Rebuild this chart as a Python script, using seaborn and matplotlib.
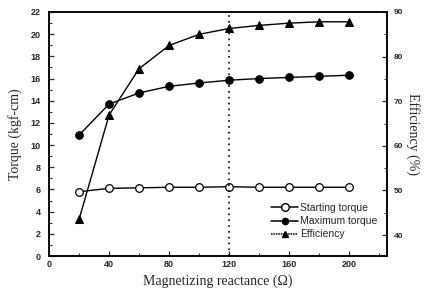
import numpy as np
import pandas as pd
import matplotlib
matplotlib.use("Agg")
import matplotlib.pyplot as plt
import seaborn as sns
from matplotlib.ticker import MultipleLocator
from matplotlib.lines import Line2D

# values
reactance = [20, 40, 60, 80, 100, 120, 140, 160, 180, 200]
starting_torque = [5.8, 6.1, 6.15, 6.2, 6.2, 6.25, 6.2, 6.2, 6.2, 6.2]
maximum_torque = [10.9, 13.7, 14.7, 15.3, 15.6, 15.85, 16.0, 16.1, 16.2, 16.3]
efficiency = [43.5, 66.9, 77.3, 82.5, 85.0, 86.3, 87.0, 87.5, 87.8, 87.8]
marked_reactance = 120

sns.set_theme(style="ticks")
plt.rcParams["font.family"] = ["Liberation Sans", "DejaVu Sans"]

fig = plt.figure(figsize=(4.28, 2.96), dpi=100)
ax = fig.add_axes([0.1145, 0.135, 0.7895, 0.8245])

torque_df = pd.DataFrame({
    "x": reactance * 2,
    "y": starting_torque + maximum_torque,
    "series": ["Starting torque"] * len(reactance) + ["Maximum torque"] * len(reactance),
})
eff_df = pd.DataFrame({"x": reactance, "y": efficiency})

sns.lineplot(data=torque_df[torque_df.series == "Starting torque"], x="x", y="y", ax=ax,
             color="black", lw=1.0, marker="o", markersize=5.5, markerfacecolor="white",
             markeredgecolor="black", markeredgewidth=0.9, legend=False)
sns.lineplot(data=torque_df[torque_df.series == "Maximum torque"], x="x", y="y", ax=ax,
             color="black", lw=1.0, marker="o", markersize=5.5, markerfacecolor="black",
             markeredgecolor="black", legend=False)
ax.axvline(marked_reactance, color="black", ls=(0, (1, 2.5)), lw=1.2)

ax2 = ax.twinx()
sns.lineplot(data=eff_df, x="x", y="y", ax=ax2, color="black", lw=1.0, marker="^",
             markersize=6, markerfacecolor="black", markeredgecolor="black", legend=False)

ax.set_xlim(0, 225)
ax.set_ylim(0, 22)
ax2.set_ylim(35.3, 90)

ax.xaxis.set_major_locator(MultipleLocator(40))
ax.xaxis.set_minor_locator(MultipleLocator(20))
ax.yaxis.set_major_locator(MultipleLocator(2))
ax.yaxis.set_minor_locator(MultipleLocator(1))
ax2.yaxis.set_major_locator(MultipleLocator(10))
ax2.yaxis.set_minor_locator(MultipleLocator(5))

for a in (ax, ax2):
    a.tick_params(which="major", direction="in", length=3.5, width=0.9, labelsize=6.5, pad=3)
    a.tick_params(which="minor", direction="in", length=2, width=0.8)
    for lab in a.get_xticklabels() + a.get_yticklabels():
        lab.set_fontweight("bold")
    for s in a.spines.values():
        s.set_linewidth(1.1)
        s.set_color("black")
ax2.tick_params(axis="y", labelsize=6, pad=5)
ax.tick_params(axis="y", pad=6)

serif = {"family": ["Liberation Serif", "DejaVu Serif"], "size": 10}
ax.set_xlabel("Magnetizing reactance (\u03a9)", fontdict=serif, labelpad=4)
ax.set_ylabel("Torque (kgf-cm)", fontdict=serif, labelpad=6)
ax2.set_ylabel("Efficiency (%)", fontdict=serif, rotation=270, labelpad=12)

handles = [
    Line2D([], [], color="black", lw=1.1, marker="o", markersize=5.5, markerfacecolor="white"),
    Line2D([], [], color="black", lw=1.1, marker="o", markersize=4.5, markerfacecolor="black"),
    Line2D([], [], color="black", lw=1.1, ls=(0, (1, 0.6)), marker="^", markersize=4.5,
           markerfacecolor="black"),
]
ax.legend(handles, ["Starting torque", "Maximum torque", "Efficiency"], loc="lower right",
          bbox_to_anchor=(1.0, 0.03), frameon=False, fontsize=7.5, handlelength=2.6,
          handletextpad=0.2, labelspacing=0.3)

fig.savefig("out.png", dpi=100)
